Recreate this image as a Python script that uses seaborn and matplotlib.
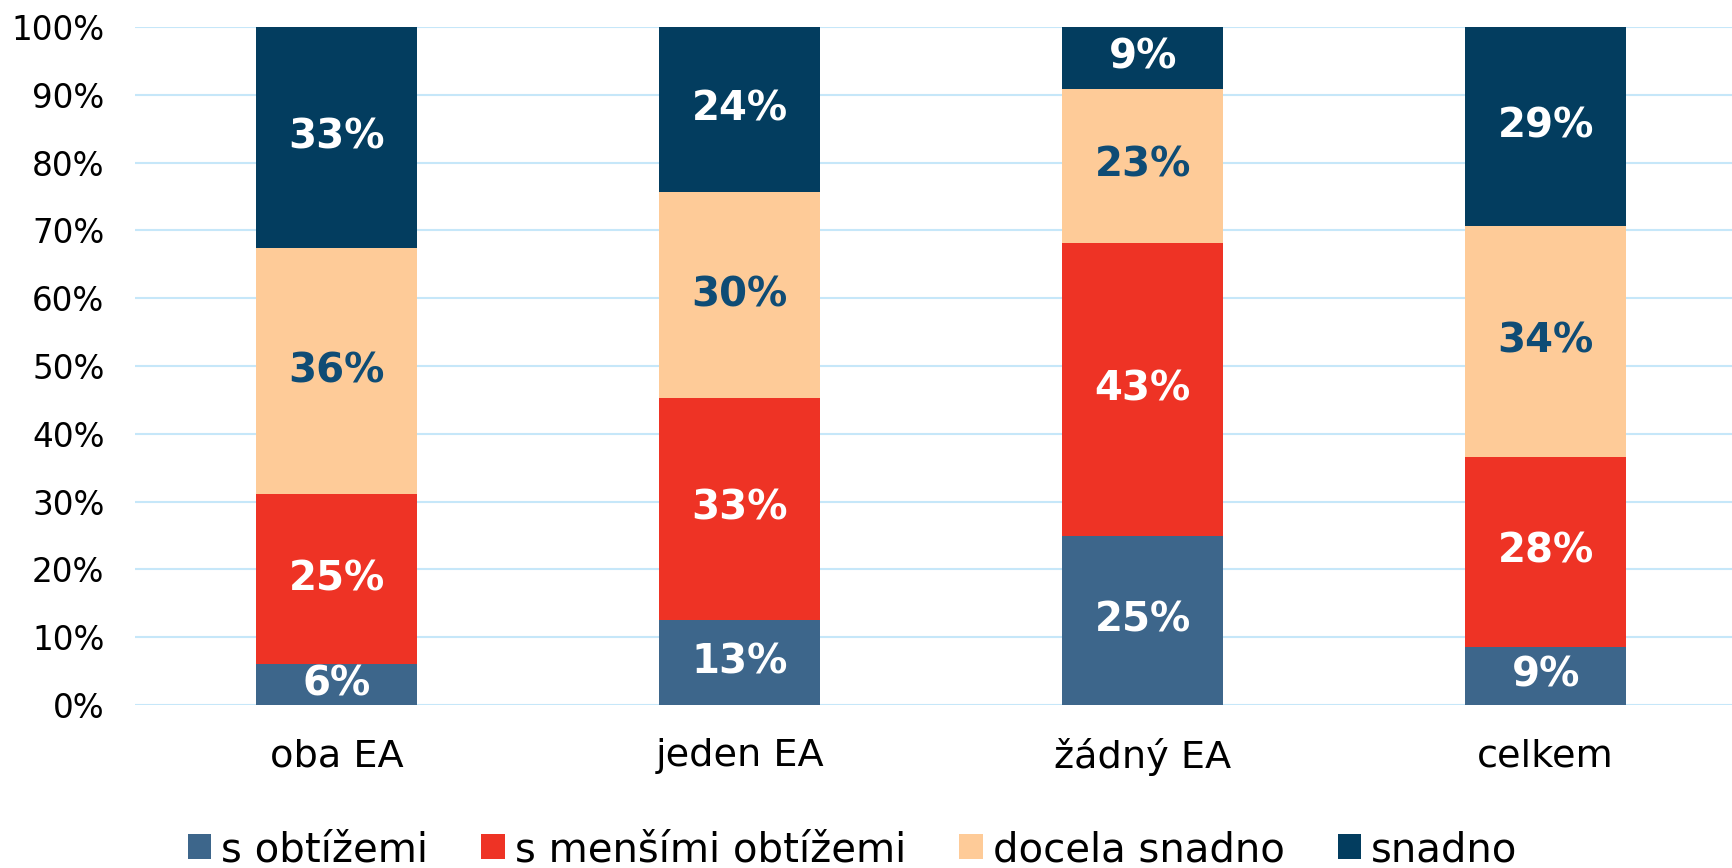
import matplotlib
matplotlib.use("Agg")
import matplotlib.pyplot as plt
import seaborn as sns
import numpy as np
import pandas as pd
from matplotlib.patches import Patch

categories = ["oba EA", "jeden EA", "žádný EA", "celkem"]
series_names = ["s obtížemi", "s menšími obtížemi", "docela snadno", "snadno"]
s_obtizemi = [6.0, 12.6, 25.0, 8.6]
s_mensimi = [25.1, 32.7, 43.1, 28.0]
docela_snadno = [36.3, 30.3, 22.8, 34.1]
snadno = [32.6, 24.4, 9.1, 29.3]
y_ticks = [0, 10, 20, 30, 40, 50, 60, 70, 80, 90, 100]

colors = ["#3D668B", "#EE3325", "#FECB98", "#033D5F"]
label_colors = ["white", "white", "#0F4C75", "white"]

sns.set_theme(style="white")
plt.rcParams["font.family"] = ["DejaVu Sans"]
plt.rcParams["text.color"] = "black"

series = [s_obtizemi, s_mensimi, docela_snadno, snadno]
df = pd.DataFrame({name: vals for name, vals in zip(series_names, series)}, index=categories)
cum = df.cumsum(axis=1)

fig = plt.figure(figsize=(17.33, 8.68), dpi=100)
ax = fig.add_axes([135 / 1733, 1 - 705 / 868, 1 - 135 / 1733, (705 - 27) / 868])

# Overlay cumulative bars, tallest first
for i in range(len(series_names) - 1, -1, -1):
    sns.barplot(x=categories, y=cum.iloc[:, i].values, color=colors[i], saturation=1,
                width=0.4, linewidth=0, ax=ax, zorder=2)

# Labels
for j, cat in enumerate(categories):
    for i, name in enumerate(series_names):
        top = cum.iloc[j, i]
        val = df.iloc[j, i]
        mid = top - val / 2
        ax.text(j, mid, f"{round(val):d}%", ha="center", va="center",
                color=label_colors[i], fontsize=29, fontweight="bold", zorder=5)

ax.set_ylim(0, 100)
ax.set_xlim(-0.5, 3.465)
ax.set_yticks(y_ticks)
ax.set_yticklabels([f"{t}%" for t in y_ticks])
ax.yaxis.grid(True, color="#C6E7F9", linewidth=1.5, zorder=0)
ax.xaxis.grid(False)
ax.set_axisbelow(True)
for s in ax.spines.values():
    s.set_visible(False)
ax.tick_params(axis="y", length=0, pad=22, labelsize=23.5, labelcolor="black")
ax.tick_params(axis="x", length=0, pad=24, labelsize=27.5, labelcolor="black")
ax.set_xlabel("")
ax.set_ylabel("")

handles = [Patch(facecolor=c, edgecolor="none", label=n) for c, n in zip(colors, series_names)]
leg = fig.legend(handles=handles, loc="center", bbox_to_anchor=(0.492, 1 - 850 / 868), ncol=4,
                 frameon=False, fontsize=29, handlelength=0.58, handleheight=0.58,
                 handletextpad=0.25, columnspacing=1.32, borderpad=0)
for t in leg.get_texts():
    t.set_color("black")

fig.savefig("out.png", dpi=100, facecolor="white")
